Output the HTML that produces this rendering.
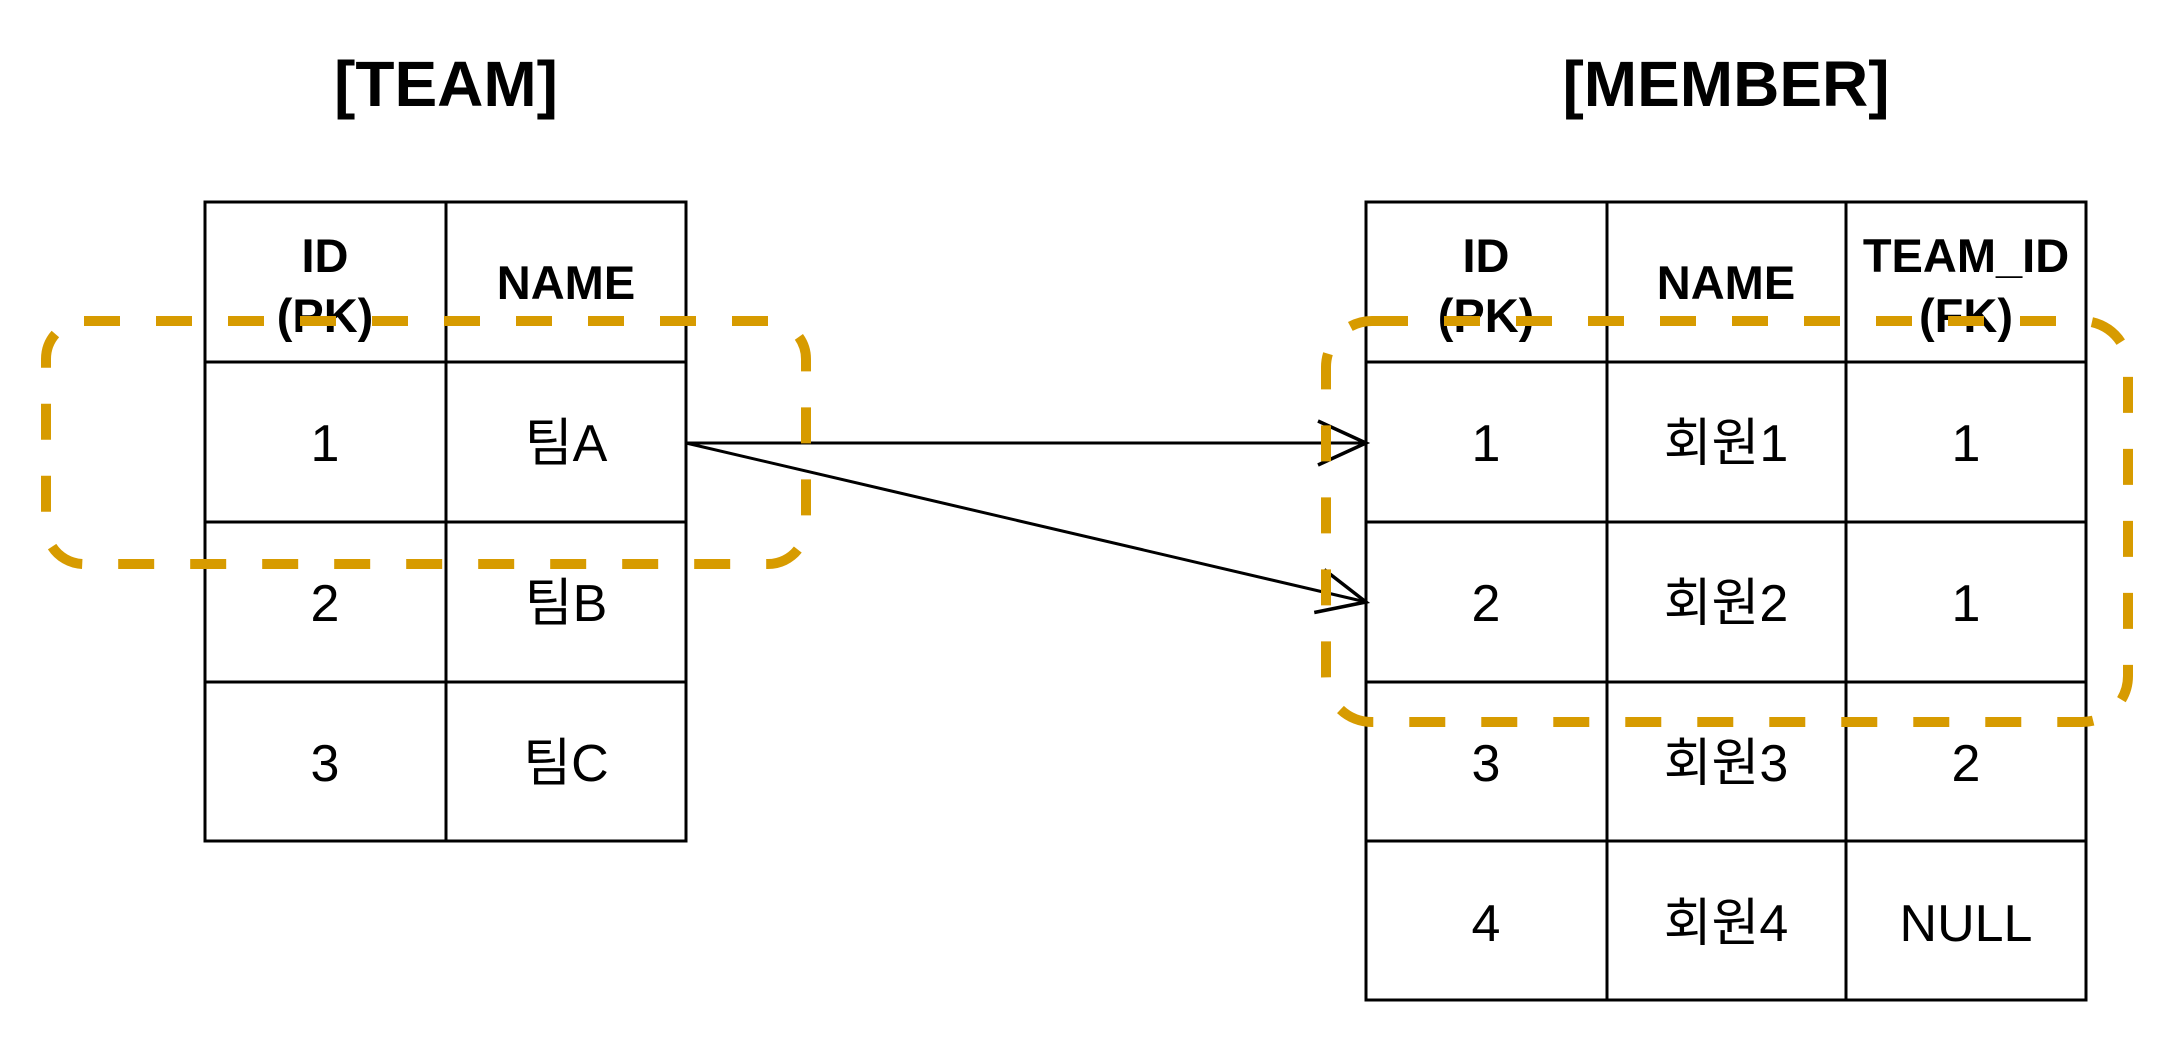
<!DOCTYPE html>
<html><head><meta charset="utf-8"><style>
html,body{margin:0;padding:0;background:#fff;}
svg{display:block;}
text{font-family:"Liberation Sans","Noto Sans CJK KR",sans-serif;fill:#000;}
</style></head><body>
<svg width="2172" height="1044" viewBox="0 0 2172 1044">
<defs>
<marker id="arr" markerWidth="60" markerHeight="60" refX="50" refY="30" orient="auto" markerUnits="userSpaceOnUse">
<path d="M2,8 L50,30 L2,52" fill="none" stroke="#000" stroke-width="3.5"/>
</marker>
</defs>
<text x="446" y="106" font-size="64" font-weight="bold" text-anchor="middle">[TEAM]</text>
<text x="1726" y="106" font-size="64" font-weight="bold" text-anchor="middle">[MEMBER]</text>

<g stroke="#000" stroke-width="3" fill="none">
<rect x="205" y="202" width="481" height="639" fill="#fff"/>
<line x1="446" y1="202" x2="446" y2="841"/>
<line x1="205" y1="362" x2="686" y2="362"/>
<line x1="205" y1="522" x2="686" y2="522"/>
<line x1="205" y1="682" x2="686" y2="682"/>
</g>
<g font-size="52" text-anchor="middle">
<text x="325" y="272" font-size="47" font-weight="bold">ID</text>
<text x="325" y="332" font-size="47" font-weight="bold">(PK)</text>
<text x="566" y="299" font-size="47" font-weight="bold">NAME</text>
<text x="325" y="461">1</text><text x="566" y="461">팀A</text>
<text x="325" y="621">2</text><text x="566" y="621">팀B</text>
<text x="325" y="781">3</text><text x="566" y="781">팀C</text>
</g>

<g stroke="#000" stroke-width="3" fill="none">
<rect x="1366" y="202" width="720" height="798" fill="#fff"/>
<line x1="1607" y1="202" x2="1607" y2="1000"/>
<line x1="1846" y1="202" x2="1846" y2="1000"/>
<line x1="1366" y1="362" x2="2086" y2="362"/>
<line x1="1366" y1="522" x2="2086" y2="522"/>
<line x1="1366" y1="682" x2="2086" y2="682"/>
<line x1="1366" y1="841" x2="2086" y2="841"/>
</g>
<g font-size="52" text-anchor="middle">
<text x="1486" y="272" font-size="47" font-weight="bold">ID</text>
<text x="1486" y="332" font-size="47" font-weight="bold">(PK)</text>
<text x="1726" y="299" font-size="47" font-weight="bold">NAME</text>
<text x="1966" y="272" font-size="47" font-weight="bold">TEAM_ID</text>
<text x="1966" y="332" font-size="47" font-weight="bold">(FK)</text>
<text x="1486" y="461">1</text><text x="1726" y="461">회원1</text><text x="1966" y="461">1</text>
<text x="1486" y="621">2</text><text x="1726" y="621">회원2</text><text x="1966" y="621">1</text>
<text x="1486" y="781">3</text><text x="1726" y="781">회원3</text><text x="1966" y="781">2</text>
<text x="1486" y="941">4</text><text x="1726" y="941">회원4</text><text x="1966" y="941">NULL</text>
</g>

<line x1="686" y1="443" x2="1366" y2="443" stroke="#000" stroke-width="3" marker-end="url(#arr)"/>
<line x1="686" y1="443" x2="1366" y2="602" stroke="#000" stroke-width="3" marker-end="url(#arr)"/>

<rect x="46" y="321" width="760" height="243" rx="38" ry="38" fill="none" stroke="#d79b00" stroke-width="10" stroke-dasharray="36 36"/>
<rect x="1326" y="321" width="802" height="401" rx="46" ry="46" fill="none" stroke="#d79b00" stroke-width="10" stroke-dasharray="36 36"/>
</svg>
</body></html>
